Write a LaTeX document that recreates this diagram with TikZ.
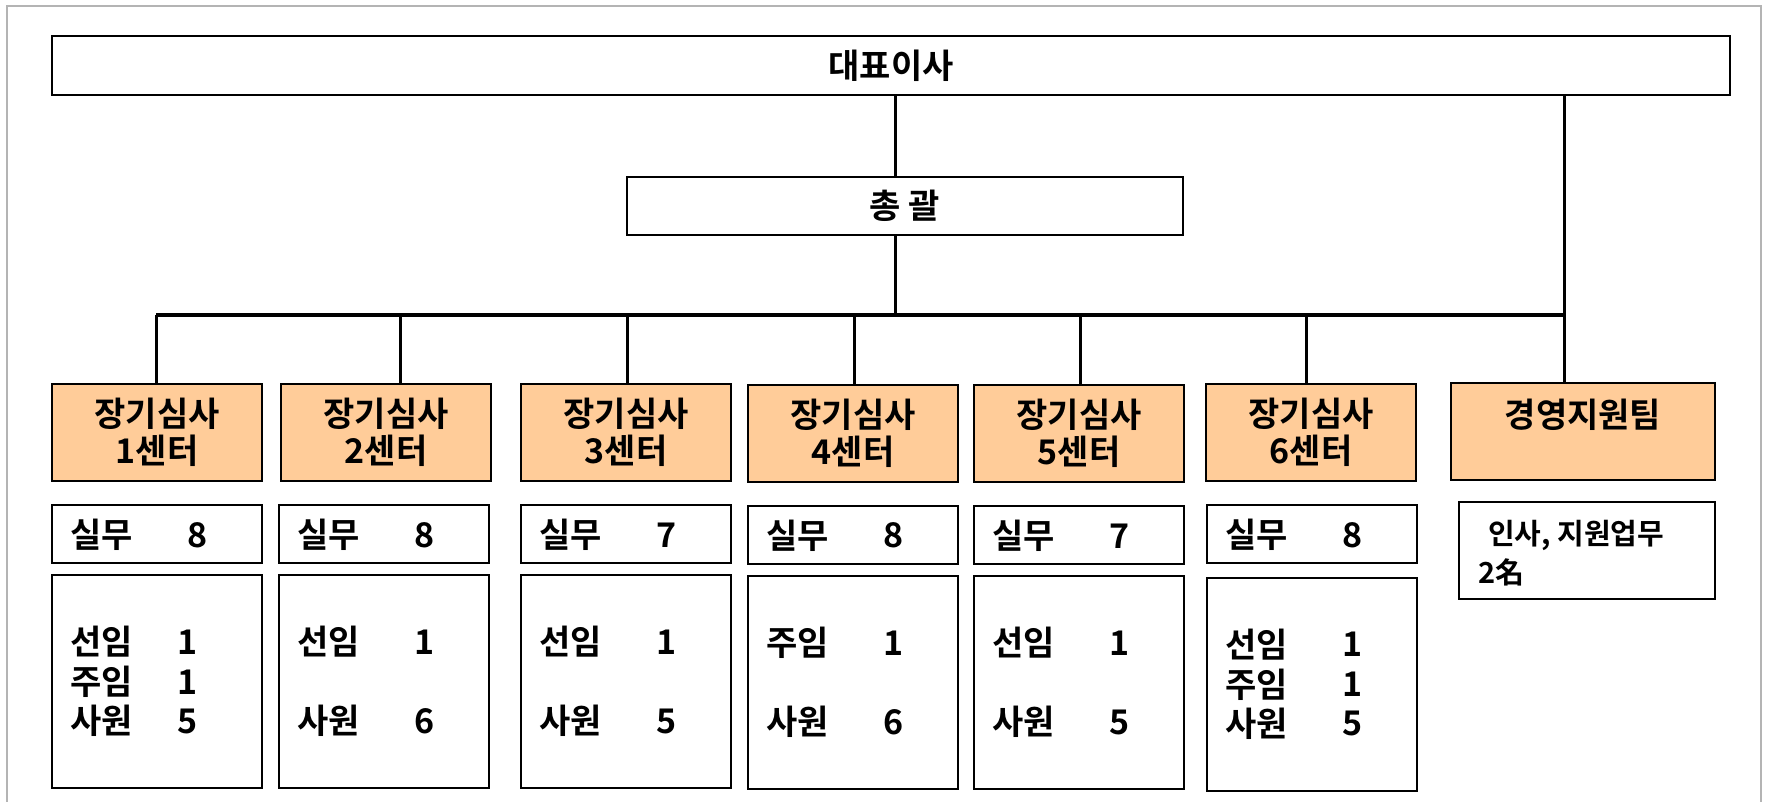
\documentclass[tikz,border=0pt]{standalone}
\usepackage{fontspec}
\newfontfamily\kr{Noto Sans CJK KR Bold}
\usetikzlibrary{calc}
\definecolor{peach}{HTML}{FFCC99}
\definecolor{framegray}{HTML}{B4B4B4}
\begin{document}
\begin{tikzpicture}[x=1pt,y=-1pt,
  every node/.style={font=\kr\fontsize{34}{37}\selectfont},
  box/.style={draw=black,line width=2pt,fill=white,inner sep=0pt,align=center},
  ctr/.style={box,fill=peach,minimum width=210pt,minimum height=97pt},
  cnt/.style={box,minimum width=210pt,minimum height=58pt},
  det/.style={box,minimum width=210pt,minimum height=213pt},
  tx/.style={anchor=west,inner sep=0pt},
  small/.style={font=\kr\fontsize{29}{32}\selectfont},
  link/.style={line width=3pt},
  busline/.style={line width=4pt}]
\useasboundingbox (0,0) rectangle (1767,801);
\draw[framegray,line width=1.2pt] (7,815) -- (7,6) -- (1761,6) -- (1761,815);

% top levels
\node[box,minimum width=1678pt,minimum height=59pt] (ceo) at (891,65.5) {대표이사};
\node[box,minimum width=556pt,minimum height=58pt] (gen) at (905,206) {총 괄};

% centers
\node[ctr] (c1) at (157,432) {장기심사\\1센터};
\node[ctr] (c2) at (386,432) {장기심사\\2센터};
\node[ctr] (c3) at (626,432) {장기심사\\3센터};
\node[ctr] (c4) at (853,433.5) {장기심사\\4센터};
\node[ctr] (c5) at (1079,433.5) {장기심사\\5센터};
\node[ctr] (c6) at (1311,432.5) {장기심사\\6센터};
\node[ctr,minimum width=264pt] (mg) at (1583,431.5) {경영지원팀\\\mbox{}};

% practical staff boxes
\node[cnt] (s1) at (157,534) {};
\node[cnt] (s2) at (384,534) {};
\node[cnt] (s3) at (626,534) {};
\node[cnt] (s4) at (853,534.5) {};
\node[cnt] (s5) at (1079,535) {};
\node[cnt] (s6) at (1312,534) {};
\node[box,minimum width=256pt,minimum height=97pt] (hr) at (1587,550.5) {};

% detail boxes
\node[det] (p1) at (157,681.5) {};
\node[det] (p2) at (384,681.5) {};
\node[det] (p3) at (626,681.5) {};
\node[det] (p4) at (853,682.5) {};
\node[det] (p5) at (1079,682.5) {};
\node[det] (p6) at (1312,684) {};

% connectors
\coordinate (trunk) at (895,315);
\coordinate (busL) at (156,315);
\coordinate (busR) at (1564,315);
\draw[link] (ceo.south -| trunk) -- (gen.north -| trunk);
\draw[link] (gen.south -| trunk) -- (trunk);
\draw[busline] (busL) -- (busR);
\draw[link] (busR |- ceo.south) -- (busR |- mg.north);
\foreach \n/\x in {c1/156,c2/400,c3/627,c4/854,c5/1080,c6/1306}{
  \coordinate (d\n) at (\x,315);
  \draw[link] (d\n) -- (d\n |- \n.north);
}

% practical staff texts
\foreach \i/\n in {1/8,2/8,3/7,4/8,5/7,6/8}{
  \node[tx] (s\i-lab) at ($(s\i.west)+(19,1)$) {실무};
  \node[tx] (s\i-num) at ($(s\i.west)+(136,1)$) {\n};
}

% detail texts
\foreach \i/\r/\lab/\n/\dx in {1/68/선임/1/126,1/108/주임/1/126,1/147/사원/5/126,
  2/68/선임/1/136,2/147/사원/6/136,
  3/68/선임/1/136,3/147/사원/5/136,
  4/68/주임/1/136,4/147/사원/6/136,
  5/68/선임/1/136,5/147/사원/5/136,
  6/68/선임/1/136,6/108/주임/1/136,6/147/사원/5/136}{
  \node[tx] (p\i-\r-lab) at ($(p\i.north west)+(19,\r)$) {\lab};
  \node[tx] (p\i-\r-num) at ($(p\i.north west)+(\dx,\r)$) {\n};
}

% management support text
\node[tx,small] (hr-a) at ($(hr.north west)+(30,34)$) {인사, 지원업무};
\node[tx,small] (hr-b) at ($(hr.north west)+(20,71)$) {2名};
\end{tikzpicture}
\end{document}
